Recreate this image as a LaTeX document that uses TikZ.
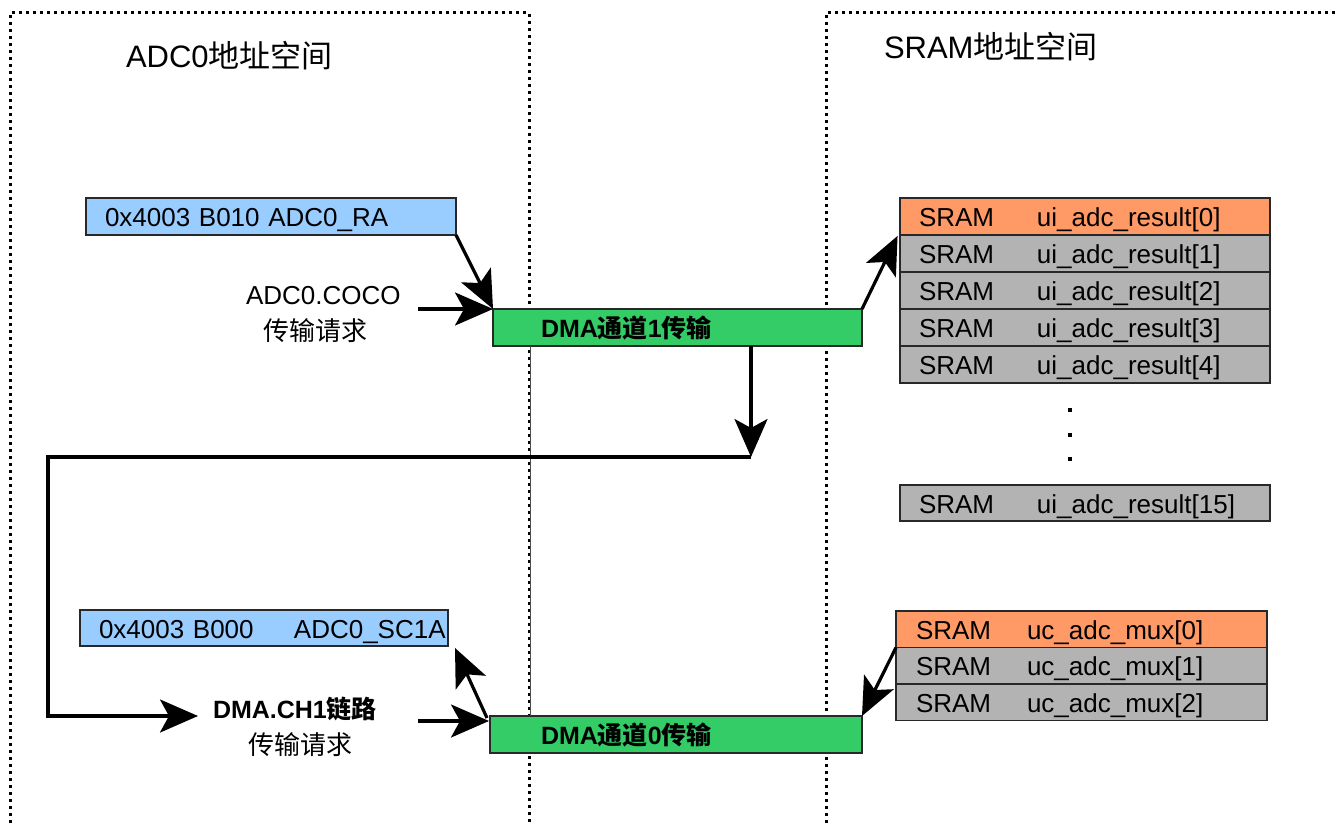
\documentclass[tikz,border=0pt]{standalone}
\usepackage{fontspec}
\setmainfont{Liberation Sans}
\newfontfamily\cjk{Noto Sans CJK SC}
\usetikzlibrary{arrows.meta}
\definecolor{bluefill}{RGB}{153,204,255}
\definecolor{greenfill}{RGB}{51,204,102}
\definecolor{orangefill}{RGB}{255,153,102}
\definecolor{grayfill}{RGB}{179,179,179}
\definecolor{edge}{RGB}{40,40,40}
\newcommand{\zh}[1]{{\cjk #1}}
\newcommand{\twocol}[3]{\makebox[#1][l]{#2}#3}
\begin{document}
\begin{tikzpicture}[x=1pt,y=-1pt,
  every node/.style={inner sep=0pt,outer sep=0pt},
  txt/.style={font=\fontsize{26}{30}\selectfont},
  title/.style={font=\fontsize{31}{35}\selectfont,anchor=base west},
  cell/.style={draw=edge,line width=1.5pt,anchor=north west,inner xsep=19pt,
    text width=#1,align=left,minimum height=37pt,text height=22pt,text depth=2pt,
    font=\fontsize{26}{30}\selectfont},
  cell/.default=332pt,
  dotmark/.style={rectangle,fill=black,minimum size=4pt},
  region/.style={line width=3pt,dash pattern=on 3pt off 4pt},
  arr/.style={line width=3.2pt,-{Stealth[length=38pt,width=33pt,inset=9pt]}},
  plain/.style={line width=3pt}
]
\useasboundingbox (0,0) rectangle (1336,826);

% address space regions
\draw[region] (10,830) -- (10,13) -- (529,13) -- (529,830);
\draw[region] (826,830) -- (826,13) -- (1340,13);
\node[title] (t1) at (126,68) {ADC0\zh{地址空间}};
\node[title] (t2) at (884,59) {SRAM\zh{地址空间}};

% ADC registers
\node[cell,fill=bluefill] (blue1) at (86,198) {0x4003 B010 ADC0\_RA};
\node[cell=330pt,fill=bluefill,inner xsep=19pt,minimum height=36pt] (blue2) at (80,610)
  {\twocol{195pt}{0x4003 B000}{ADC0\_SC1A}};

% DMA channels
\node[cell,fill=greenfill,inner xsep=0pt,text width=369pt,font=\fontsize{25}{30}\selectfont\bfseries] (green1) at (493,309)
  {\hspace*{48pt}DMA\zh{通道}1\zh{传输}};
\node[cell,fill=greenfill,inner xsep=0pt,text width=372pt,font=\fontsize{25}{30}\selectfont\bfseries] (green2) at (490,716)
  {\hspace*{51pt}DMA\zh{通道}0\zh{传输}};

% SRAM result table
\node[cell,fill=orangefill] (r0) at (900,198) {\twocol{118pt}{SRAM}{ui\_adc\_result[0]}};
\node[cell,fill=grayfill] (r1) at (900,235) {\twocol{118pt}{SRAM}{ui\_adc\_result[1]}};
\node[cell,fill=grayfill] (r2) at (900,272) {\twocol{118pt}{SRAM}{ui\_adc\_result[2]}};
\node[cell,fill=grayfill] (r3) at (900,309) {\twocol{118pt}{SRAM}{ui\_adc\_result[3]}};
\node[cell,fill=grayfill] (r4) at (900,346) {\twocol{118pt}{SRAM}{ui\_adc\_result[4]}};
\node[dotmark] (d1) at (1070,410) {};
\node[dotmark] (d2) at (1070,434.5) {};
\node[dotmark] (d3) at (1070,459) {};
\node[cell,fill=grayfill,minimum height=36pt] (r15) at (900,485) {\twocol{118pt}{SRAM}{ui\_adc\_result[15]}};

% SRAM mux table
\node[cell=331pt,fill=orangefill,inner xsep=20pt,minimum height=36.5pt] (m0) at (896,611) {\twocol{111pt}{SRAM}{uc\_adc\_mux[0]}};
\node[cell=331pt,fill=grayfill,inner xsep=20pt,minimum height=36.5pt] (m1) at (896,647.5) {\twocol{111pt}{SRAM}{uc\_adc\_mux[1]}};
\node[cell=331pt,fill=grayfill,inner xsep=20pt,minimum height=36.5pt] (m2) at (896,684) {\twocol{111pt}{SRAM}{uc\_adc\_mux[2]}};

% request labels
\node[txt,anchor=base west] (coco) at (246,305) {ADC0.COCO};
\node[txt,anchor=base west] (req1) at (263,341) {\zh{传输请求}};
\node[txt,anchor=base west,font=\fontsize{25}{30}\selectfont\bfseries] (ch1) at (213,718) {DMA.CH1\zh{链路}};
\node[txt,anchor=base west] (req2) at (248,754) {\zh{传输请求}};

% helper coordinates
\coordinate (c1) at (418,309);
\coordinate (c2) at (418,721);
\coordinate (j1) at (751,457);
\coordinate (j2) at (48,457);
\coordinate (j3) at (48,716);
\coordinate (t3) at (198,716);
\coordinate (x530) at (530,0);

% thin link between channels along the region border
\draw[line width=0.8pt,black!70] (green1.south -| x530) -- (green2.north -| x530);

% connectors
\draw[arr] (blue1.south east) -- (green1.north west);
\draw[arr] (c1) -- (green1.north west);
\draw[arr,shorten >=1pt] (green1.north east) -- ([xshift=-2pt]r0.south west);
\draw[arr] (green1.south -| j1) -- (j1);
\draw[arr] (j1) -- (j2) -- (j3) -- (t3);
\draw[arr] (c2) -- ([xshift=-1pt,yshift=-5pt]green2.north west);
\draw[arr] ([xshift=-3pt,yshift=-2pt]green2.north west) -- ([xshift=7pt,yshift=-2pt]blue2.south east);
\draw[arr] (m0.south west) -- (green2.north east);
\end{tikzpicture}
\end{document}
